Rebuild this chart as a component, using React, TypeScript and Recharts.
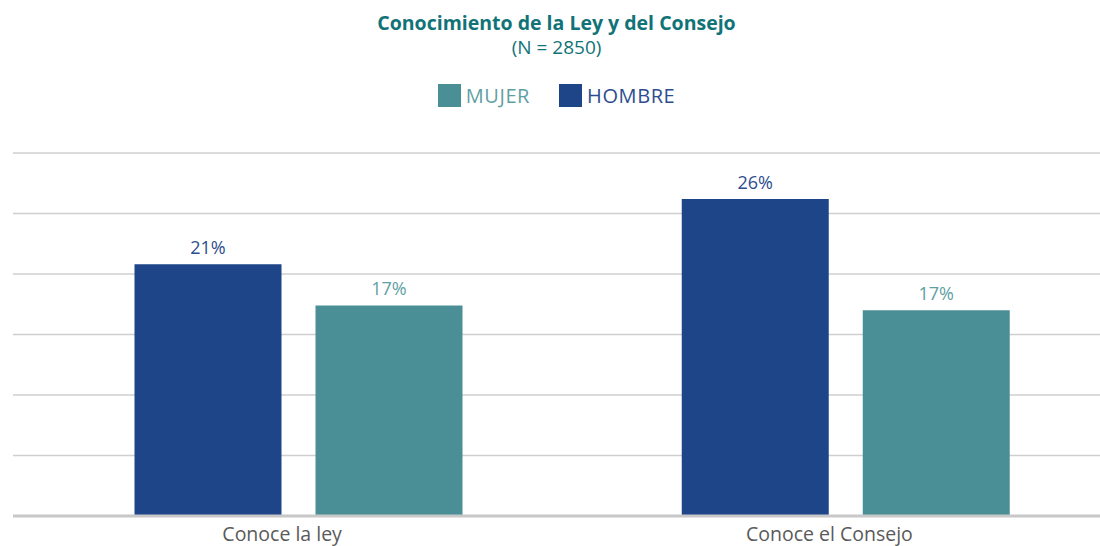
import { BarChart, Bar, XAxis, YAxis, CartesianGrid, LabelList } from 'recharts'

const FONT = '"Open Sans", "Noto Sans", sans-serif'

const categories = ['Conoce la ley', 'Conoce el Consejo']
const hombre = [20.8, 26.2]
const mujer = [17.4, 17.0]
const yTicks = [0, 5, 10, 15, 20, 25, 30]

const series = [
  { key: 'hombre', name: 'HOMBRE', color: '#1e4588', text: '#2d4d8e' },
  { key: 'mujer', name: 'MUJER', color: '#4b8f96', text: '#5f9fa4' },
]
// legend lists MUJER first
const legendOrder = ['mujer', 'hombre']

const data = categories.map((c, i) => ({ category: c, hombre: hombre[i], mujer: mujer[i] }))

const CategoryTick = ({ x, y, payload }: any) => (
  <text x={x - 16} y={y + 17} textAnchor="middle" fill="#5a5a5a" fontSize={19.5} fontFamily={FONT}>
    {payload.value}
  </text>
)

export default function App() {
  return (
    <div style={{ position: 'relative', width: 1100, height: 546, overflow: 'hidden', fontFamily: FONT }}>
      <style>{'html,body{margin:0;overflow:hidden}'}</style>
      <div style={{ position: 'absolute', top: 10, left: 0, width: 1113, textAlign: 'center', color: '#117378' }}>
        <div style={{ fontSize: 19.5, fontWeight: 700, lineHeight: '25px' }}>Conocimiento de la Ley y del Consejo</div>
        <div style={{ fontSize: 19, lineHeight: '25px' }}>(N = 2850)</div>
      </div>
      <div style={{ position: 'absolute', top: 82, left: 0, width: 1113, display: 'flex', justifyContent: 'center', gap: 29 }}>
        {legendOrder.map(k => {
          const s = series.find(x => x.key === k)!
          return (
            <div key={k} style={{ display: 'flex', alignItems: 'center', gap: 5 }}>
              <span style={{ width: 23, height: 23, background: s.color, display: 'inline-block' }} />
              <span style={{ fontSize: 20, color: s.text, letterSpacing: 0.6 }}>{s.name}</span>
            </div>
          )
        })}
      </div>
      <div style={{ position: 'absolute', top: 0, left: 0, width: 1119, height: 546 }}>
        <BarChart
          width={1119}
          height={546}
          data={data}
          margin={{ top: 153, right: 0, bottom: 0, left: 13 }}
          barSize={147}
          barGap={34}
        >
          <CartesianGrid vertical={false} stroke="#cfcfcf" strokeWidth={1.5} />
          <XAxis
            dataKey="category"
            height={30}
            padding={{ left: 11.5, right: 0 }}
            tickLine={false}
            axisLine={{ stroke: '#c8c8c8', strokeWidth: 3 }}
            tick={<CategoryTick />}
            interval={0}
          />
          <YAxis hide domain={[0, 30]} ticks={yTicks} />
          {series.map(s => (
            <Bar key={s.key} dataKey={s.key} name={s.name} fill={s.color} isAnimationActive={false}>
              <LabelList
                dataKey={s.key}
                position="top"
                offset={10}
                fill={s.text}
                fontSize={18}
                fontFamily={FONT}
                formatter={(v: any) => `${Math.round(Number(v))}%`}
              />
            </Bar>
          ))}
        </BarChart>
      </div>
    </div>
  )
}
